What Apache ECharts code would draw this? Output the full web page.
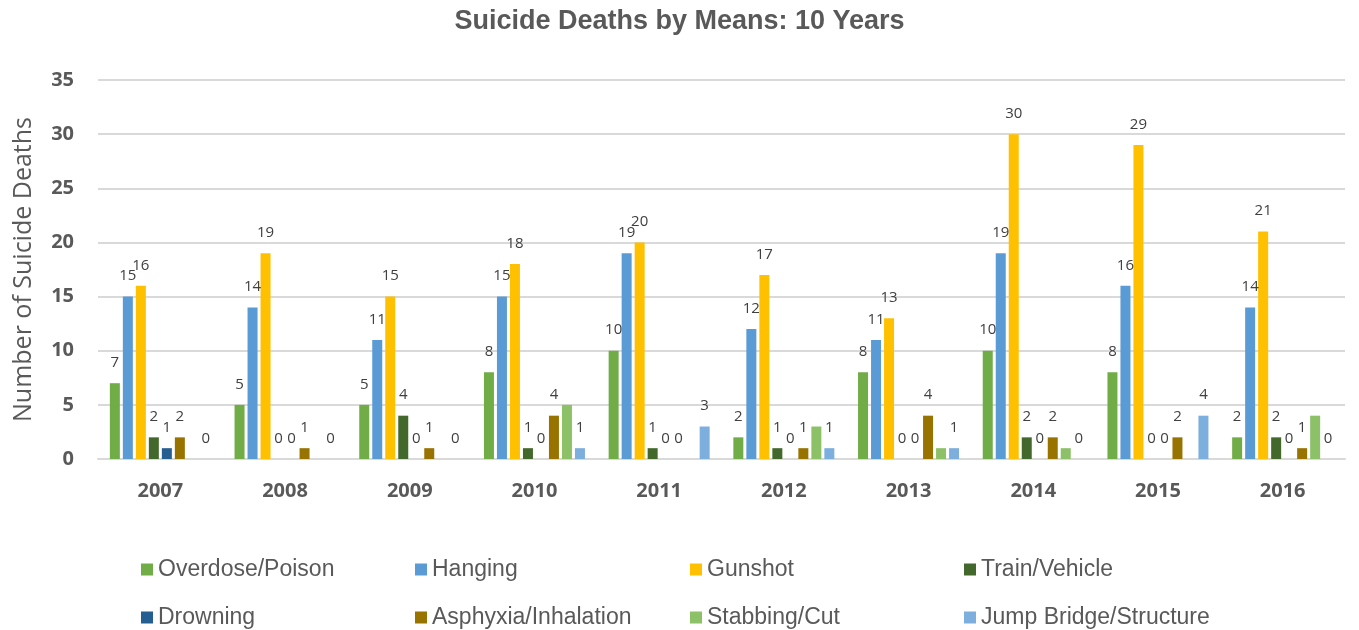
<!DOCTYPE html>
<html>
<head>
<meta charset="utf-8">
<script src="https://cdn.jsdelivr.net/npm/echarts@6/dist/echarts.min.js"></script>
<style>
  html, body { margin: 0; padding: 0; background: #fff; }
  #chart { width: 1359px; height: 630px; }
</style>
</head>
<body>
<div id="chart"></div>
<script>
// Suicide deaths by means, 2007-2016
const years = ['2007', '2008', '2009', '2010', '2011', '2012', '2013', '2014', '2015', '2016'];
const overdosePoison   = [7, 5, 5, 8, 10, 2, 8, 10, 8, 2];
const hanging          = [15, 14, 11, 15, 19, 12, 11, 19, 16, 14];
const gunshot          = [16, 19, 15, 18, 20, 17, 13, 30, 29, 21];
const trainVehicle     = [2, 0, 4, 1, 1, 1, 0, 2, 0, 2];
const drowning         = [1, 0, 0, 0, 0, 0, 0, 0, 0, 0];
const asphyxia         = [2, 1, 1, 4, 0, 1, 4, 2, 2, 1];
const stabbingCut      = [null, null, null, 5, null, 3, 1, 1, null, 4];
const jumpBridge       = [0, 0, 0, 1, 3, 1, 1, 0, 4, 0];
const yTicks = [0, 5, 10, 15, 20, 25, 30, 35];

const seriesDefs = [
  { name: 'Overdose/Poison', data: overdosePoison, color: '#70AD47', label: true },
  { name: 'Hanging', data: hanging, color: '#5B9BD5', label: true },
  { name: 'Gunshot', data: gunshot, color: '#FFC000', label: true },
  { name: 'Train/Vehicle', data: trainVehicle, color: '#43682B', label: true },
  { name: 'Drowning', data: drowning, color: '#255E91', label: true },
  { name: 'Asphyxia/Inhalation', data: asphyxia, color: '#997300', label: true },
  { name: 'Stabbing/Cut', data: stabbingCut, color: '#8CC168', label: false },
  { name: 'Jump Bridge/Structure', data: jumpBridge, color: '#7CAFDD', label: true }
];

const narrowFont = '"Liberation Sans", sans-serif';
const axisFont = '"Open Sans", "Liberation Sans", sans-serif';
const gray = '#595959';

// Legend laid out as a 2 x 4 grid
const legendCols = [136, 410, 685, 959];
const legendRows = [553, 601];
const legends = seriesDefs.map((s, i) => ({
  data: [s.name],
  left: legendCols[i % 4],
  top: legendRows[Math.floor(i / 4)],
  icon: 'rect',
  itemWidth: 12,
  itemHeight: 12,
  itemGap: 0,
  itemTextGap: 6,
  textStyle: { color: gray, fontSize: 23, fontFamily: narrowFont }
}));

const chart = echarts.init(document.getElementById('chart'));
chart.setOption({
  animation: false,
  backgroundColor: '#ffffff',
  title: {
    text: 'Suicide Deaths by Means: 10 Years',
    left: 'center',
    top: 3,
    textStyle: { color: gray, fontSize: 27, fontWeight: 'bold', fontFamily: narrowFont }
  },
  legend: legends,
  grid: { left: 98, right: 14, top: 80, bottom: 171 },
  xAxis: {
    type: 'category',
    data: years,
    axisLine: { lineStyle: { color: '#D9D9D9', width: 2 } },
    axisTick: { show: false },
    axisLabel: { color: gray, fontSize: 20, fontWeight: 'bold', fontFamily: axisFont, margin: 22 }
  },
  yAxis: {
    type: 'value',
    min: yTicks[0],
    max: yTicks[yTicks.length - 1],
    interval: 5,
    name: 'Number of Suicide Deaths',
    nameLocation: 'middle',
    nameGap: 62,
    nameTextStyle: { color: gray, fontSize: 25, fontFamily: axisFont },
    axisLine: { show: false },
    axisTick: { show: false },
    axisLabel: { color: gray, fontSize: 20, fontWeight: 'bold', fontFamily: axisFont, margin: 24 },
    splitLine: { lineStyle: { color: '#D9D9D9', width: 2 } }
  },
  series: seriesDefs.map(s => ({
    name: s.name,
    type: 'bar',
    data: s.data,
    barGap: '30%',
    barCategoryGap: '19%',
    itemStyle: { color: s.color },
    label: {
      show: s.label,
      position: 'top',
      distance: 13,
      color: '#404040',
      fontSize: 15,
      fontFamily: axisFont
    }
  }))
});
</script>
</body>
</html>
